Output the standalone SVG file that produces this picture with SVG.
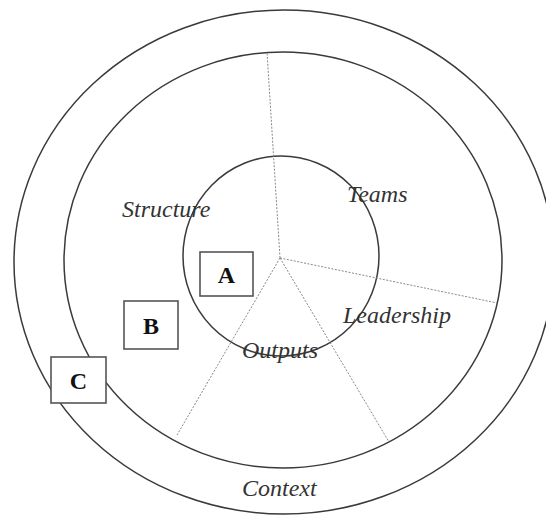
<svg xmlns="http://www.w3.org/2000/svg" width="546" height="515" viewBox="0 0 546 515">
<style>
.ring{fill:none;stroke:#3a3a3a;stroke-width:1.5}
.spoke{fill:none;stroke:#888;stroke-width:1;stroke-dasharray:2 1.5}
.box{fill:#fff;stroke:#555;stroke-width:1.6}
.lbl{font-family:"Liberation Serif",serif;font-size:24px;font-style:italic;fill:#333}
.let{font-family:"Liberation Serif",serif;font-size:24px;font-weight:bold;fill:#111;text-anchor:middle}
</style>
<rect width="546" height="515" fill="#fff"/>
<g id="rings">
<ellipse id="outer" class="ring" cx="284" cy="262" rx="270" ry="252"/>
<ellipse id="middle" class="ring" cx="283" cy="260" rx="219" ry="208"/>
<ellipse id="inner" class="ring" cx="281" cy="256" rx="98" ry="100"/>
</g>
<g id="connectors">
<line class="spoke" x1="280" y1="258" x2="267" y2="52"/>
<line class="spoke" x1="280" y1="258" x2="497" y2="303"/>
<line class="spoke" x1="280" y1="258" x2="177" y2="435"/>
<line class="spoke" x1="280" y1="258" x2="389" y2="442"/>
</g>
<g id="labels">
<text class="lbl" x="122" y="217">Structure</text>
<text class="lbl" x="347" y="202">Teams</text>
<text class="lbl" x="343" y="323">Leadership</text>
<text class="lbl" x="242" y="358">Outputs</text>
<text class="lbl" x="242" y="496">Context</text>
</g>
<g id="nodeA">
<rect class="box" x="200" y="252" width="53" height="44"/>
<text class="let" x="226.5" y="283">A</text>
</g>
<g id="nodeB">
<rect class="box" x="124" y="301" width="54" height="48"/>
<text class="let" x="151" y="334">B</text>
</g>
<g id="nodeC">
<rect class="box" x="51" y="357" width="55" height="46"/>
<text class="let" x="78.5" y="389">C</text>
</g>
</svg>
